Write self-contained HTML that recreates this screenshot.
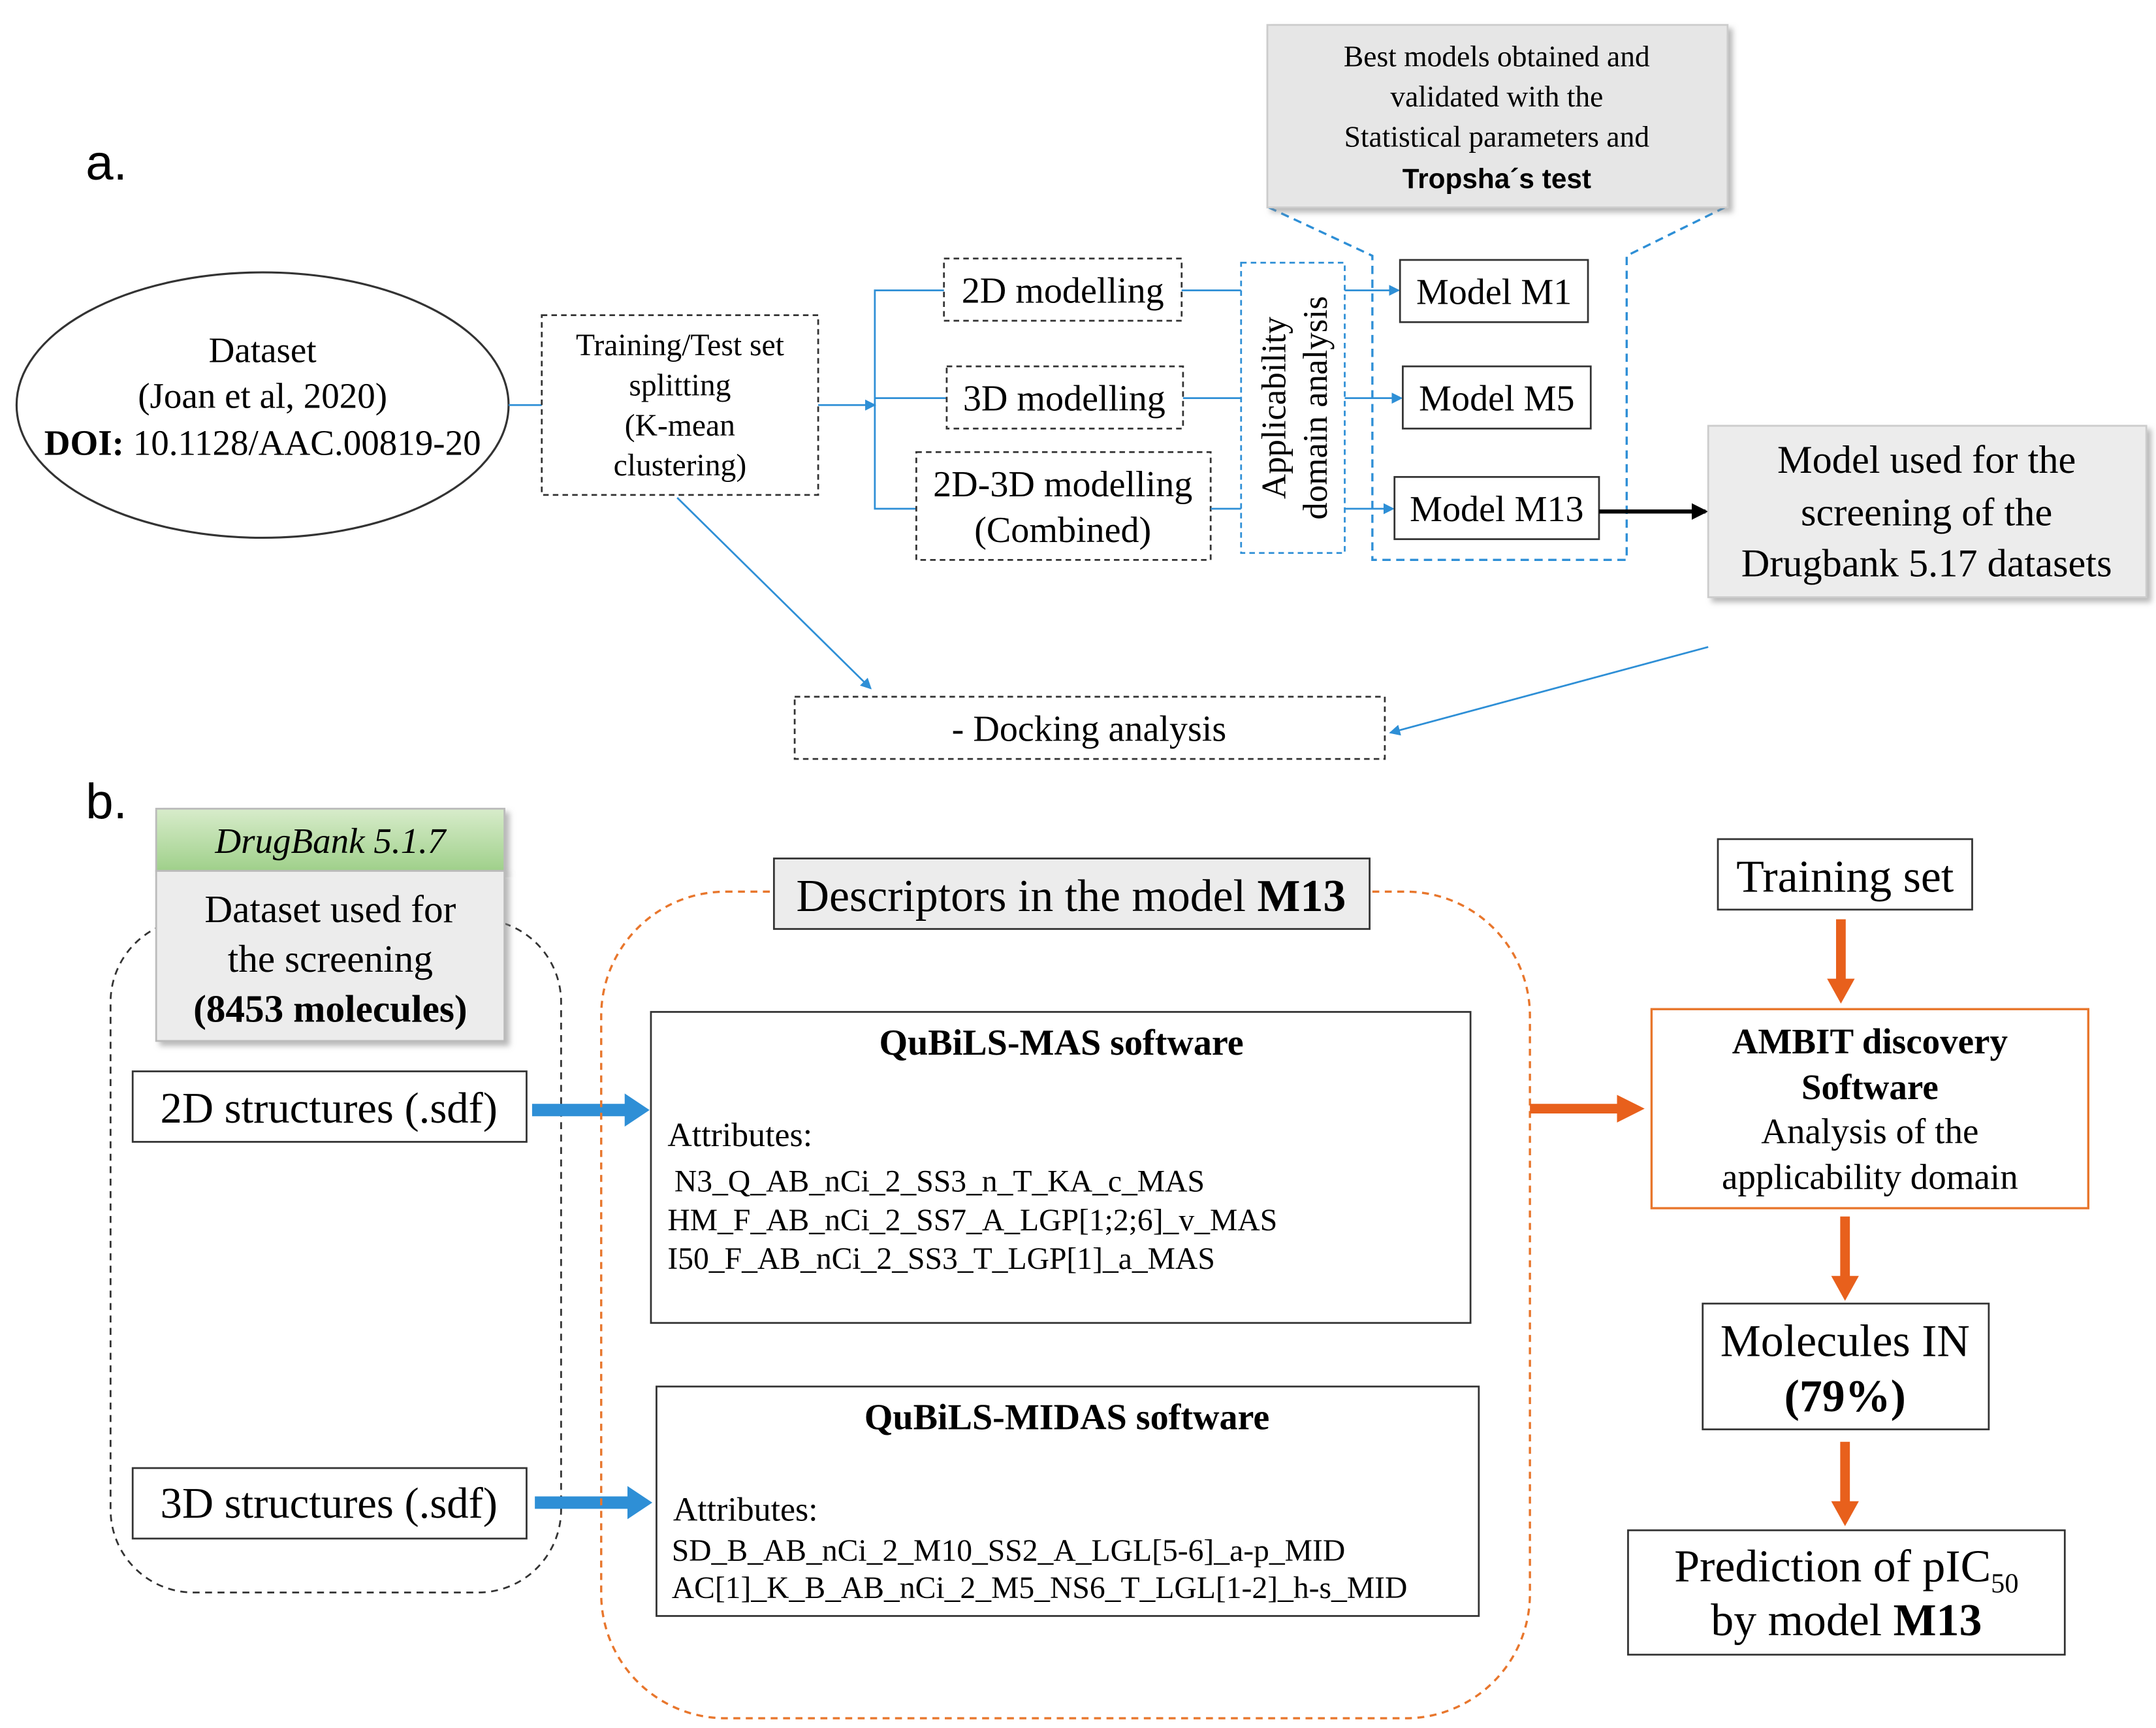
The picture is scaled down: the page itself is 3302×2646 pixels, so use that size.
<!DOCTYPE html>
<html><head><meta charset="utf-8"><style>
html,body{margin:0;padding:0;background:#fff}
svg{display:block}
text{font-family:"Liberation Serif",serif;fill:#000}
.s{font-family:"Liberation Sans",sans-serif}
</style></head><body>
<svg width="3302" height="2646" viewBox="0 0 1560 1250" xmlns="http://www.w3.org/2000/svg">
<defs>
<marker id="ab" markerWidth="8" markerHeight="8" refX="7" refY="4" orient="auto" markerUnits="userSpaceOnUse"><path d="M0,0 L8,4 L0,8 z" fill="#2e8fd6"/></marker>
<marker id="ak" markerWidth="12" markerHeight="12" refX="10" refY="6" orient="auto" markerUnits="userSpaceOnUse"><path d="M0,0 L12,6 L0,12 z" fill="#000"/></marker>
<linearGradient id="g" x1="0" y1="0" x2="0" y2="1"><stop offset="0" stop-color="#d8eccb"/><stop offset="1" stop-color="#9fd08a"/></linearGradient>
<filter id="sh"><feDropShadow dx="3" dy="3" stdDeviation="2" flood-color="#888" flood-opacity="0.6"/></filter>
</defs>
<g fill="none" stroke-width="1.3">
<text x="62" y="130" class="s" font-size="36" stroke="none">a.</text>
<ellipse cx="190" cy="293" rx="178" ry="96" stroke="#333" stroke-width="1.5"/>
<line x1="368" y1="293" x2="392" y2="293" stroke="#2e8fd6"/>
<rect x="392" y="228" width="200" height="130" stroke="#333" stroke-dasharray="4,3"/>
<line x1="592" y1="293" x2="633" y2="293" stroke="#2e8fd6" marker-end="url(#ab)"/>
<polyline points="683,210 633,210 633,368 663,368" stroke="#2e8fd6"/>
<line x1="633" y1="288" x2="685" y2="288" stroke="#2e8fd6"/>
<rect x="683" y="187" width="172" height="45" stroke="#333" stroke-dasharray="4,3"/>
<rect x="685" y="265" width="171" height="45" stroke="#333" stroke-dasharray="4,3"/>
<rect x="663" y="327" width="213" height="78" stroke="#333" stroke-dasharray="4,3"/>
<line x1="855" y1="210" x2="898" y2="210" stroke="#2e8fd6"/>
<line x1="856" y1="288" x2="898" y2="288" stroke="#2e8fd6"/>
<line x1="876" y1="368" x2="898" y2="368" stroke="#2e8fd6"/>
<rect x="898" y="190" width="75" height="210" stroke="#2e8fd6" stroke-dasharray="4,3"/>
<line x1="973" y1="210" x2="1012" y2="210" stroke="#2e8fd6" marker-end="url(#ab)"/>
<line x1="973" y1="288" x2="1014" y2="288" stroke="#2e8fd6" marker-end="url(#ab)"/>
<line x1="973" y1="368" x2="1008" y2="368" stroke="#2e8fd6" marker-end="url(#ab)"/>
<rect x="1013" y="188" width="136" height="45" stroke="#333"/>
<rect x="1015" y="265" width="136" height="45" stroke="#333"/>
<rect x="1009" y="345" width="148" height="45" stroke="#333"/>
<polyline points="918,150 993,185 993,405 1177,405 1177,185 1248,150" stroke="#2e8fd6" stroke-width="1.6" stroke-dasharray="6,4"/>
<rect x="917" y="18" width="333" height="132" fill="#e6e6e6" stroke="#ccc" filter="url(#sh)"/>
<line x1="1157" y1="370" x2="1234" y2="370" stroke="#000" stroke-width="3" marker-end="url(#ak)"/>
<rect x="1236" y="308" width="317" height="124" fill="#ececec" stroke="#ccc" filter="url(#sh)"/>
<line x1="1236" y1="468" x2="1006" y2="530" stroke="#2e8fd6" marker-end="url(#ab)"/>
<line x1="490" y1="360" x2="630" y2="498" stroke="#2e8fd6" marker-end="url(#ab)"/>
<rect x="575" y="504" width="427" height="45" stroke="#333" stroke-dasharray="4,3"/>
<text x="62" y="592" class="s" font-size="36" stroke="none">b.</text>
<rect x="80" y="665" width="326" height="487" rx="60" stroke="#333" stroke-dasharray="5,4"/>
<rect x="113" y="585" width="252" height="45" fill="url(#g)" stroke="#bbb" filter="url(#sh)"/>
<rect x="113" y="630" width="252" height="123" fill="#ececec" stroke="#bbb" filter="url(#sh)"/>
<rect x="96" y="775" width="285" height="51" fill="#fff" stroke="#333"/>
<rect x="96" y="1062" width="285" height="51" fill="#fff" stroke="#333"/>
<line x1="385" y1="803" x2="455" y2="803" stroke="#2e8fd6" stroke-width="9"/>
<path d="M452,791 L470,803 L452,815 z" fill="#2e8fd6" stroke="none"/>
<line x1="387" y1="1087" x2="457" y2="1087" stroke="#2e8fd6" stroke-width="9"/>
<path d="M454,1075 L472,1087 L454,1099 z" fill="#2e8fd6" stroke="none"/>
<rect x="435" y="645" width="672" height="598" rx="90" stroke="#e8762c" stroke-dasharray="5,4" stroke-width="1.6"/>
<rect x="560" y="621" width="431" height="51" fill="#ececec" stroke="#333"/>
<rect x="471" y="732" width="593" height="225" fill="#fff" stroke="#333"/>
<rect x="475" y="1003" width="595" height="166" fill="#fff" stroke="#333"/>
<line x1="1107" y1="802" x2="1172" y2="802" stroke="#e8601c" stroke-width="7"/>
<path d="M1170,792 L1190,802 L1170,812 z" fill="#e8601c" stroke="none"/>
<rect x="1243" y="607" width="184" height="51" stroke="#333"/>
<g stroke="#e8601c" stroke-width="7">
<line x1="1332" y1="665" x2="1332" y2="710"/><line x1="1335" y1="880" x2="1335" y2="925"/><line x1="1335" y1="1043" x2="1335" y2="1088"/>
</g>
<g fill="#e8601c" stroke="none">
<path d="M1322,708 L1332,726 L1342,708 z"/><path d="M1325,923 L1335,941 L1345,923 z"/><path d="M1325,1086 L1335,1104 L1345,1086 z"/>
</g>
<rect x="1195" y="730" width="316" height="144" stroke="#e8762c" stroke-width="1.6"/>
<rect x="1232" y="943" width="207" height="91" stroke="#333"/>
<rect x="1178" y="1107" width="316" height="90" stroke="#333"/>
</g>
<g text-anchor="middle">
<text x="190" y="262" font-size="26">Dataset</text>
<text x="190" y="295" font-size="26">(Joan et al, 2020)</text>
<text x="190" y="329" font-size="26"><tspan font-weight="bold">DOI:</tspan> 10.1128/AAC.00819-20</text>
<g font-size="22.5"><text x="492" y="257">Training/Test set</text><text x="492" y="286">splitting</text><text x="492" y="315">(K-mean</text><text x="492" y="344">clustering)</text></g>
<g font-size="26.5"><text x="769" y="219">2D modelling</text><text x="770" y="297">3D modelling</text>
<text x="769" y="359">2D-3D modelling</text><text x="769" y="392">(Combined)</text>
<text x="1081" y="220">Model M1</text><text x="1083" y="297">Model M5</text><text x="1083" y="377">Model M13</text>
<text x="788" y="536">- Docking analysis</text></g>
<g font-size="25" transform="rotate(-90 935 295)"><text x="935" y="290">Applicability</text><text x="935" y="320">domain analysis</text></g>
<g font-size="21.5"><text x="1083" y="48">Best models obtained and</text><text x="1083" y="77">validated with the</text><text x="1083" y="106">Statistical parameters and</text><text x="1083" y="136" class="s" font-weight="bold" font-size="20">Tropsha´s test</text></g>
<g font-size="28.5"><text x="1394" y="342">Model used for the</text><text x="1394" y="380">screening of the</text><text x="1394" y="417">Drugbank 5.17 datasets</text></g>
<text x="239" y="617" font-size="26" font-style="italic">DrugBank 5.1.7</text>
<g font-size="28"><text x="239" y="667">Dataset used for</text><text x="239" y="703">the screening</text><text x="239" y="739" font-weight="bold">(8453 molecules)</text></g>
<text x="238" y="812" font-size="31.5">2D structures (.sdf)</text>
<text x="238" y="1098" font-size="31.5">3D structures (.sdf)</text>
<text x="775" y="659" font-size="33">Descriptors in the model <tspan font-weight="bold">M13</tspan></text>
<text x="768" y="763" font-size="26.5" font-weight="bold">QuBiLS-MAS software</text>
<text x="772" y="1034" font-size="26.5" font-weight="bold">QuBiLS-MIDAS software</text>
<text x="1335" y="645" font-size="33">Training set</text>
<g font-size="26"><text x="1353" y="762" font-weight="bold">AMBIT discovery</text><text x="1353" y="795" font-weight="bold">Software</text><text x="1353" y="827">Analysis of the</text><text x="1353" y="860">applicability domain</text></g>
<text x="1335" y="981" font-size="33">Molecules IN</text>
<text x="1335" y="1021" font-size="33" font-weight="bold">(79%)</text>
<text x="1336" y="1144" font-size="33">Prediction of pIC<tspan font-size="20" dy="8">50</tspan></text>
<text x="1336" y="1183" font-size="33">by model <tspan font-weight="bold">M13</tspan></text>
</g>
<g font-size="24.5"><text x="483" y="829">Attributes:</text><text x="487" y="1100">Attributes:</text></g>
<g font-size="22.5"><text x="488" y="862">N3_Q_AB_nCi_2_SS3_n_T_KA_c_MAS</text><text x="483" y="890">HM_F_AB_nCi_2_SS7_A_LGP[1;2;6]_v_MAS</text><text x="483" y="918">I50_F_AB_nCi_2_SS3_T_LGP[1]_a_MAS</text>
<text x="486" y="1129">SD_B_AB_nCi_2_M10_SS2_A_LGL[5-6]_a-p_MID</text><text x="486" y="1156">AC[1]_K_B_AB_nCi_2_M5_NS6_T_LGL[1-2]_h-s_MID</text></g>
</svg>
</body></html>
